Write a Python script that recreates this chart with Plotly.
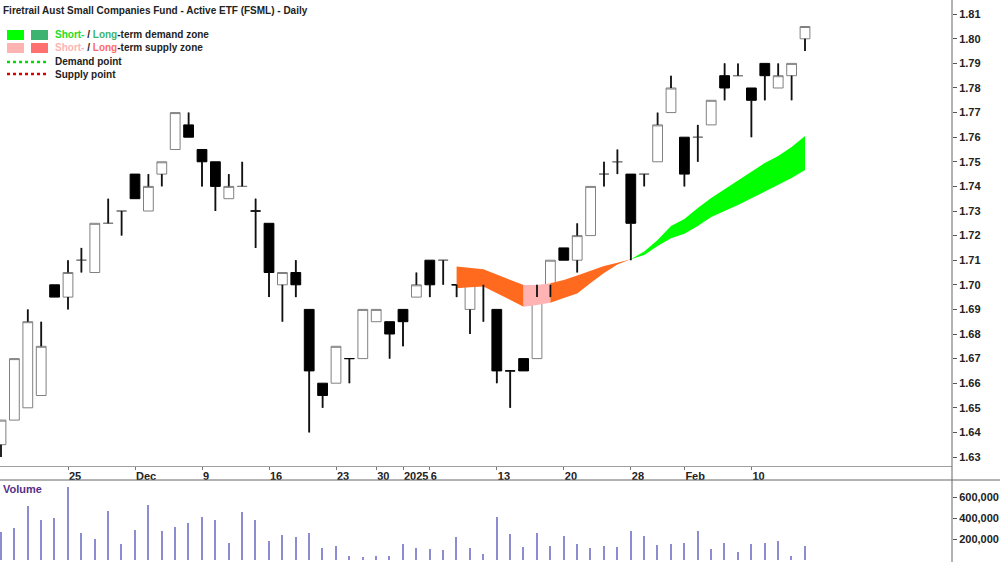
import plotly.graph_objects as go

# ---------------- data ----------------
dates = ["2024-11-18","2024-11-19","2024-11-20","2024-11-21","2024-11-22",
         "2024-11-25","2024-11-26","2024-11-27","2024-11-28","2024-11-29",
         "2024-12-02","2024-12-03","2024-12-04","2024-12-05","2024-12-06",
         "2024-12-09","2024-12-10","2024-12-11","2024-12-12","2024-12-13",
         "2024-12-16","2024-12-17","2024-12-18","2024-12-19","2024-12-20",
         "2024-12-23","2024-12-24","2024-12-27","2024-12-30","2024-12-31",
         "2025-01-02","2025-01-03","2025-01-06","2025-01-07","2025-01-08",
         "2025-01-09","2025-01-10","2025-01-13","2025-01-14","2025-01-15",
         "2025-01-16","2025-01-17","2025-01-20","2025-01-21","2025-01-22",
         "2025-01-23","2025-01-24","2025-01-28","2025-01-29","2025-01-30",
         "2025-01-31","2025-02-03","2025-02-04","2025-02-05","2025-02-06",
         "2025-02-07","2025-02-10","2025-02-11","2025-02-12","2025-02-13",
         "2025-02-14"]

opens = [1.635,1.645,1.650,1.655,1.700,1.695,1.710,1.705,1.725,1.730,
         1.745,1.730,1.745,1.755,1.765,1.755,1.750,1.735,1.740,1.730,
         1.725,1.700,1.705,1.690,1.660,1.660,1.670,1.670,1.685,1.685,
         1.690,1.695,1.710,1.710,1.700,1.690,1.705,1.690,1.665,1.670,
         1.670,1.700,1.715,1.710,1.720,1.745,1.750,1.745,1.745,1.750,
         1.770,1.760,1.760,1.765,1.785,1.785,1.780,1.790,1.780,1.785,1.800]
highs = [1.645,1.670,1.690,1.685,1.700,1.710,1.715,1.725,1.735,1.730,
         1.745,1.745,1.750,1.770,1.770,1.755,1.750,1.745,1.750,1.735,
         1.725,1.705,1.710,1.690,1.660,1.675,1.670,1.690,1.690,1.685,
         1.690,1.705,1.710,1.710,1.700,1.700,1.705,1.690,1.665,1.670,
         1.700,1.710,1.715,1.725,1.740,1.750,1.755,1.745,1.745,1.770,
         1.785,1.760,1.765,1.775,1.790,1.790,1.780,1.790,1.790,1.790,1.805]
lows  = [1.630,1.645,1.650,1.655,1.695,1.690,1.705,1.705,1.725,1.720,
         1.735,1.730,1.740,1.755,1.760,1.740,1.730,1.735,1.740,1.715,
         1.695,1.685,1.695,1.640,1.650,1.660,1.660,1.670,1.685,1.670,
         1.675,1.695,1.695,1.700,1.695,1.680,1.685,1.660,1.650,1.665,
         1.670,1.695,1.710,1.705,1.720,1.740,1.745,1.710,1.740,1.750,
         1.770,1.740,1.750,1.765,1.775,1.785,1.760,1.775,1.780,1.775,1.795]
closes = [1.645,1.670,1.685,1.675,1.695,1.705,1.710,1.725,1.725,1.730,
          1.735,1.740,1.750,1.770,1.760,1.750,1.740,1.740,1.740,1.730,
          1.705,1.705,1.700,1.665,1.655,1.675,1.670,1.690,1.690,1.680,
          1.685,1.700,1.700,1.710,1.700,1.700,1.700,1.665,1.665,1.665,
          1.695,1.710,1.710,1.720,1.740,1.745,1.750,1.725,1.745,1.765,
          1.780,1.745,1.760,1.775,1.780,1.785,1.775,1.785,1.785,1.790,1.805]
volumes = [270000,302000,514000,381000,397000,692000,260000,197000,467000,149000,
           286000,524000,276000,311000,349000,413000,381000,159000,460000,381000,
           184000,235000,216000,254000,111000,133000,38000,25000,38000,38000,
           149000,111000,102000,95000,222000,111000,57000,406000,248000,121000,
           260000,133000,229000,152000,111000,133000,121000,279000,229000,143000,
           152000,159000,279000,102000,165000,76000,152000,165000,178000,38000,133000]

# demand / supply zone band (from 2025-01-08 onwards)
zone_start = "2025-01-08"
zone_upper = [1.7074,1.7069,1.7063,1.7042,1.7020,1.6999,1.6999,1.7006,1.7020,1.7038,
              1.7058,1.7076,1.7090,1.7104,1.7135,1.7182,1.7239,1.7267,1.7312,1.7353,
              1.7389,1.7426,1.7459,1.7495,1.7524,1.7560,1.7605]
zone_lower = [1.6986,1.6990,1.6993,1.6965,1.6938,1.6911,1.6918,1.6927,1.6946,1.6965,
              1.7007,1.7048,1.7083,1.7104,1.7121,1.7158,1.7189,1.7207,1.7239,1.7276,
              1.7300,1.7324,1.7353,1.7381,1.7406,1.7434,1.7467]
# segments: (first date, last date, kind)
zone_segments = [("2025-01-08","2025-01-15","long_supply"),
                 ("2025-01-15","2025-01-17","short_supply"),
                 ("2025-01-17","2025-01-28","long_supply"),
                 ("2025-01-28","2025-02-14","short_demand")]

tick_dates  = ["2024-11-25","2024-12-02","2024-12-09","2024-12-16","2024-12-23",
               "2024-12-30","2025-01-02","2025-01-06","2025-01-13","2025-01-20",
               "2025-01-28","2025-02-03","2025-02-10"]
tick_labels = ["25","Dec","9","16","23","30","2025","6","13","20","28","Feb","10"]

price_ticks = [1.63,1.64,1.65,1.66,1.67,1.68,1.69,1.70,1.71,1.72,1.73,
               1.74,1.75,1.76,1.77,1.78,1.79,1.80,1.81]
vol_ticks = [200000,400000,600000]

# ---------------- styles ----------------
FONT = "Liberation Sans, Arial, sans-serif"
zone_colors = {"long_supply": "#FF6A1F", "short_supply": "#FFB3B3",
               "short_demand": "#00FF00", "long_demand": "#3CB371"}

W, H = 1000, 562
PLOT_W = 952

xs = list(range(len(dates)))
zone_x = xs[dates.index(zone_start):]

fig = go.Figure()

# zones
for d0, d1, kind in zone_segments:
    a = dates.index(d0) - dates.index(zone_start)
    b = dates.index(d1) - dates.index(zone_start)
    sx = zone_x[a:b+1]
    up = zone_upper[a:b+1]
    lo = zone_lower[a:b+1]
    fig.add_trace(go.Scatter(x=sx + sx[::-1], y=up + lo[::-1], fill="toself",
                             fillcolor=zone_colors[kind], line=dict(width=0),
                             mode="lines", hoverinfo="skip", showlegend=False,
                             xaxis="x", yaxis="y"))

# candles
fig.add_trace(go.Candlestick(x=xs, open=opens, high=highs, low=lows, close=closes,
                             increasing=dict(line=dict(color="#808080", width=1), fillcolor="#FFFFFF"),
                             decreasing=dict(line=dict(color="#000000", width=1), fillcolor="#000000"),
                             whiskerwidth=0, showlegend=False, xaxis="x", yaxis="y"))
# darker wicks
wx, wy = [], []
for i in xs:
    top = max(opens[i], closes[i]); bot = min(opens[i], closes[i])
    if highs[i] > top:
        wx += [i, i, None]; wy += [highs[i], top, None]
    if lows[i] < bot:
        wx += [i, i, None]; wy += [bot, lows[i], None]
fig.add_trace(go.Scatter(x=wx, y=wy, mode="lines", line=dict(color="#111111", width=1.8),
                         hoverinfo="skip", showlegend=False, xaxis="x", yaxis="y"))

# volume
fig.add_trace(go.Bar(x=xs, y=volumes, width=0.11, marker=dict(color="#8C8CD2", line=dict(width=0)),
                     showlegend=False, xaxis="x2", yaxis="y2"))

xr = [-1/13.4, (PLOT_W - 1)/13.4]
price_dom = [1 - 466/H, 1]
vol_dom = [0, (H - 480)/H]

fig.update_layout(
    width=W, height=H, margin=dict(l=0, r=W-PLOT_W, t=0, b=0),
    paper_bgcolor="white", plot_bgcolor="white",
    font=dict(family=FONT, size=11, color="#222222"),
    boxgap=0.27, boxgroupgap=0, bargap=0,
    xaxis=dict(domain=[0, 1], range=xr, anchor="y", showgrid=False, zeroline=False,
               tickmode="array", tickvals=[dates.index(d) for d in tick_dates],
               ticktext=["<b>%s</b>" % t for t in tick_labels],
               ticks="outside", ticklen=3, tickcolor="#777777", tickangle=0,
               ticklabelposition="outside right", tickfont=dict(size=11),
               showline=True, linecolor="#A0A0A0", linewidth=1,
               rangeslider=dict(visible=False), fixedrange=True, automargin=False),
    yaxis=dict(domain=price_dom, range=[1.62634, 1.81577], side="right", anchor="x",
               showgrid=False, zeroline=False, tickmode="array", tickvals=price_ticks,
               ticktext=["<b>%.2f</b>" % v for v in price_ticks],
               ticks="outside", ticklen=4, tickcolor="#555555",
               showline=False, automargin=False),
    xaxis2=dict(domain=[0, 1], range=xr, anchor="y2", matches="x", showgrid=False,
                zeroline=False, showticklabels=False, ticks="", showline=False,
                automargin=False),
    yaxis2=dict(domain=vol_dom, range=[-19000, 762000], side="right", anchor="x2",
                showgrid=False, zeroline=False, tickmode="array", tickvals=vol_ticks,
                ticktext=["<b>{:,}</b>".format(v) for v in vol_ticks],
                ticks="outside", ticklen=4, tickcolor="#555555",
                showline=False, automargin=False),
)

def px_x(px):
    return px / PLOT_W

def px_y(py):
    return 1 - py / H

shapes = []
# right axis line (full height)
shapes.append(dict(type="line", xref="paper", yref="paper", x0=1, x1=1, y0=0, y1=1,
                   line=dict(color="#666666", width=1)))
# separator line above volume panel
shapes.append(dict(type="line", xref="paper", yref="paper", x0=0, x1=W/PLOT_W,
                   y0=px_y(480), y1=px_y(480), line=dict(color="#666666", width=1)))
# legend swatches
for x0, col in [(7, "#00FF00"), (31, "#3CB371")]:
    shapes.append(dict(type="rect", xref="paper", yref="paper", x0=px_x(x0), x1=px_x(x0+17),
                       y0=px_y(40), y1=px_y(30), fillcolor=col, line=dict(width=0)))
for x0, col in [(7, "#FFB3B3"), (31, "#FF7070")]:
    shapes.append(dict(type="rect", xref="paper", yref="paper", x0=px_x(x0), x1=px_x(x0+17),
                       y0=px_y(53), y1=px_y(43), fillcolor=col, line=dict(width=0)))
shapes.append(dict(type="line", xref="paper", yref="paper", x0=px_x(7), x1=px_x(48),
                   y0=px_y(62), y1=px_y(62), line=dict(color="#00DD00", width=2.5, dash="dot")))
shapes.append(dict(type="line", xref="paper", yref="paper", x0=px_x(7), x1=px_x(48),
                   y0=px_y(74), y1=px_y(74), line=dict(color="#DD0000", width=2.5, dash="dot")))
fig.update_layout(shapes=shapes)

ann = []
def text(px, py, t, color="#222222", size=10):
    ann.append(dict(xref="paper", yref="paper", x=px_x(px), y=px_y(py), text=t,
                    showarrow=False, xanchor="left", yanchor="middle",
                    font=dict(family=FONT, size=size, color=color)))

text(1, 10, "<b>Firetrail Aust Small Companies Fund - Active ETF (FSML) - Daily</b>")
text(53, 35, "<b><span style='color:#22DD22'>Short-</span> / <span style='color:#3CB371'>Long</span>-term demand zone</b>")
text(53, 48, "<b><span style='color:#FFB3B3'>Short-</span> / <span style='color:#FF6A6A'>Long</span>-term supply zone</b>")
text(53, 62, "<b>Demand point</b>")
text(53, 74, "<b>Supply point</b>")
text(1, 489, "<b>Volume</b>", color="#55308A", size=11)
fig.update_layout(annotations=ann)

fig.write_html("out.html")
